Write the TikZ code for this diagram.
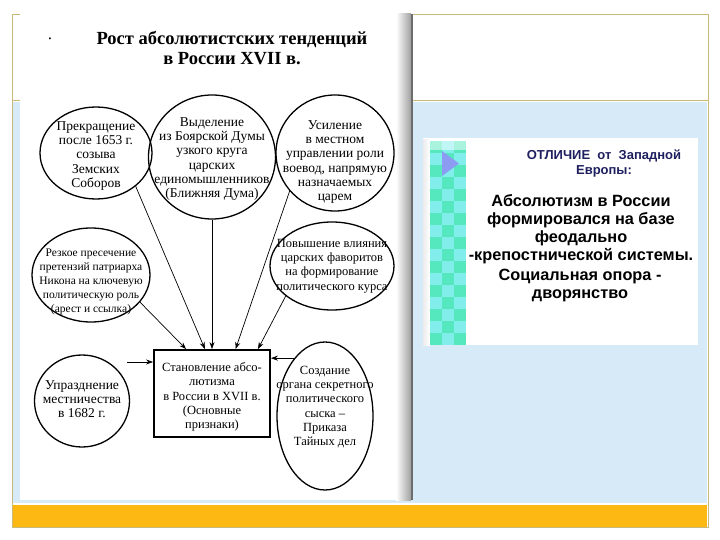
\documentclass[tikz,border=0pt]{standalone}
\usepackage{fontspec}
\setmainfont{Liberation Serif}
\newfontfamily\arialfont{Liberation Sans}
\usetikzlibrary{shapes.geometric,arrows.meta,calc}
\definecolor{framec}{RGB}{200,185,120}
\definecolor{bluefill}{RGB}{214,234,248}
\definecolor{orangebar}{RGB}{253,184,19}
\definecolor{navytext}{RGB}{31,32,96}
\definecolor{stripA}{RGB}{85,232,190}
\definecolor{stripB}{RGB}{130,238,235}
\definecolor{trianglec}{RGB}{140,156,242}
\begin{document}
\begin{tikzpicture}[x=1pt,y=-1pt,
  oval/.style={draw, ellipse, line width=1.3pt, inner sep=0pt},
  txt/.style={align=center, inner sep=0pt, font=\fontsize{#1}{14.2}\selectfont},
  txt/.default=12.5,
  arr/.style={-{Stealth[length=7pt,width=5pt]}, line width=0.7pt},
  rtxt/.style={align=center, inner sep=0pt, font=\arialfont\bfseries\fontsize{16.3}{18}\selectfont}]
\useasboundingbox (0,0) rectangle (720,540);
\fill[white] (0,0) rectangle (720,540);
% slide background
\fill[bluefill] (13,102) rectangle (707,503);
\fill[orangebar] (13,505) rectangle (707,527);
\draw[framec, line width=0.8pt] (12,14) rectangle (708,527);
\draw[framec, line width=0.8pt] (12,100) -- (708,100);
% scanned picture
\fill[white] (20,14) rectangle (413,500);
\shade[left color=white, right color=gray!75] (396,14) rectangle (411,500);
\fill[gray!85!black] (411,14) rectangle (413,500);
% right panel
\fill[white] (423,138) rectangle (698,345);
\shade[left color=gray!15, right color=white] (423,140) rectangle (430,345);
\foreach \i in {0,...,16} {
  \foreach \j in {0,1,2} {
    \pgfmathtruncatemacro{\m}{mod(\i+\j,2)}
    \ifnum\m=0 \fill[stripA] ({430+12*\j},{141+12*\i}) rectangle ++(12,12);
    \else \fill[stripB] ({430+12*\j},{141+12*\i}) rectangle ++(12,12); \fi
  }
}
\shade[top color=white, bottom color=white, opacity=0.5] (430,141) rectangle (466,150);
\fill[trianglec] (442,151) -- (459,163.5) -- (442,176) -- cycle;
\node[align=center, inner sep=0pt, text=navytext, font=\arialfont\bfseries\fontsize{13}{15}\selectfont] (head) at (604,164) {ОТЛИЧИЕ\ \ от\ \ Западной\\Европы:};
\node[rtxt] (para1) at (581,229) {Абсолютизм в России\\формировался на базе\\феодально\\-крепостнической системы.};
\node[rtxt] (para2) at (580,285) {Социальная опора -\\дворянство};
% title
\node[font=\fontsize{8}{8}\selectfont, inner sep=0pt] (bullet) at (50,40) {•};
\node[align=center, inner sep=0pt, font=\bfseries\fontsize{18.5}{20}\selectfont] (title) at (232,48) {Рост абсолютистских тенденций\\в России XVII в.};
% ellipses
\node[oval, minimum width=112pt, minimum height=92pt] (c1) at (96,153) {};
\node[txt=13.5] (c1t) at (96,156) {Прекращение\\после 1653 г.\\созыва\\Земских\\Соборов};
\node[oval, minimum width=127pt, minimum height=124pt] (c2) at (212,157) {};
\node[txt=13.5] (c2t) at (212,159) {Выделение\\из Боярской Думы\\узкого круга\\царских\\единомышленников\\(Ближняя Дума)};
\node[oval, minimum width=118pt, minimum height=116pt] (c3) at (335,153) {};
\node[txt=13.5] (c3t) at (335,162) {Усиление\\в местном\\управлении роли\\воевод, напрямую\\назначаемых\\царем};
\node[oval, minimum width=118pt, minimum height=94pt] (c4) at (91,275) {};
\node[txt=11.5] (c4t) at (91,282) {Резкое пресечение\\претензий патриарха\\Никона на ключевую\\политическую роль\\(арест и ссылка)};
\node[oval, minimum width=124pt, minimum height=88pt] (c5) at (332,266) {};
\node[txt] (c5t) at (332,266) {Повышение влияния\\царских фаворитов\\на формирование\\политического курса};
\node[oval, minimum width=95pt, minimum height=92pt] (c6) at (82,401) {};
\node[txt=13.5] (c6t) at (82,399) {Упразднение\\местничества\\в 1682 г.};
\node[oval, minimum width=96pt, minimum height=148pt] (c7) at (325,416) {};
\node[txt] (c7t) at (325,407) {Создание\\органа секретного\\политического\\сыска –\\Приказа\\Тайных дел};
\node[draw, line width=1.8pt, minimum width=116pt, minimum height=87pt, inner sep=0pt] (box) at (212,393.5) {};
\node[txt] (boxt) at (212,397) {Становление абсо-\\лютизма\\в России в XVII в.\\(Основные\\признаки)};
% arrows
\coordinate (t1) at ($(box.north west)!0.28!(box.north east)$);
\coordinate (t2) at ($(box.north west)!0.44!(box.north east)$);
\coordinate (t4) at ($(box.north west)!0.70!(box.north east)$);
\coordinate (t5) at ($(box.north west)!0.89!(box.north east)$);
\draw[arr] (c4.-29) -- (t1);
\draw[arr] (c1.-40) -- (t2);
\draw[arr] (c2.south) -- (c2.south |- box.north);
\draw[arr] (c3.220) -- (t4);
\draw[arr] (c5.213) -- (t5);
\coordinate (s6) at (127,362);
\draw[arr] (s6) -- (s6 -| box.west);
\draw[arr] (c7.118) -- (c7.118 -| box.east);
\end{tikzpicture}
\end{document}
